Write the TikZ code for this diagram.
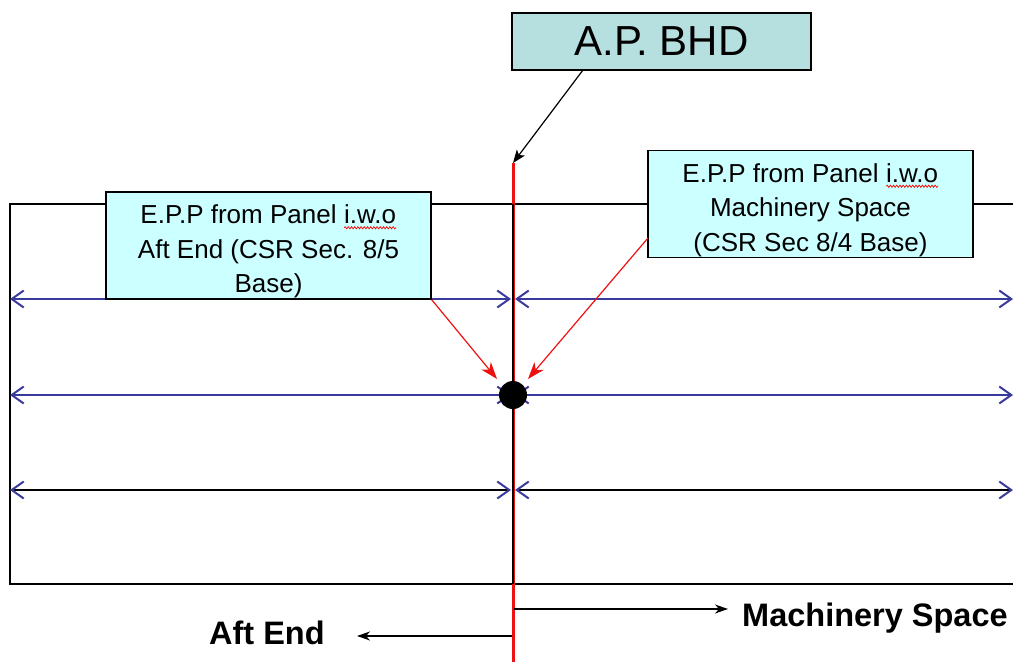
\documentclass[tikz,border=0pt]{standalone}
\usepackage{fontspec}
\setmainfont{Liberation Sans}
\usetikzlibrary{arrows.meta,decorations.pathmorphing}
\definecolor{apfill}{HTML}{B6DFE0}
\definecolor{eppfill}{HTML}{CCFFFF}
\definecolor{dimblue}{HTML}{3A3A9C}
\definecolor{bhdred}{HTML}{EE1111}
\newcommand\redwave[2]{\tikz[baseline=(#1.base),x=1pt,y=1pt]{%
  \node[inner sep=0pt,outer sep=0pt] (#1) {#2};%
  \draw[red, line width=0.7pt, decorate, decoration={snake, amplitude=1.1pt, segment length=3.2pt}]
    ([yshift=-4pt]#1.base west) -- ([yshift=-4pt]#1.base east);}}
\begin{document}
\begin{tikzpicture}[x=1pt,y=-1pt,
  outline/.style={draw=black, line width=1.3pt},
  eppbox/.style={draw=black, line width=1.3pt, fill=eppfill, inner sep=0pt,
    minimum width=325pt, minimum height=107pt},
  epptext/.style={inner sep=0pt, align=center, font=\fontsize{26}{34.5}\selectfont},
  apbox/.style={draw=black, line width=1.3pt, fill=apfill, inner sep=0pt,
    minimum width=299pt, minimum height=57pt, font=\fontsize{42}{48}\selectfont},
  tipb/.tip={Straight Barb[length=12pt,width=17pt,line width=2pt,color=dimblue]},
  dimline/.style={line width=1.3pt, {tipb}-{tipb}},
  redarrow/.style={bhdred, line width=1.2pt, -{Stealth[length=17pt,width=12pt,inset=5pt]}},
  blackarrow/.style={black, line width=1.2pt, -{Stealth[length=13pt,width=10pt,inset=3pt]}},
  dirarrow/.style={black, line width=1.2pt, -{Stealth[length=13pt,width=9pt,inset=4pt]}},
  dirlabel/.style={font=\bfseries\fontsize{32.5}{36}\selectfont, inner sep=0pt}]
\useasboundingbox (0,0) rectangle (1013,662);

% outer frame (open at the right)
\coordinate (TR) at (1013,204);
\coordinate (TL) at (10,204);
\coordinate (BL) at (10,584);
\coordinate (BR) at (1013,584);
\draw[outline] (TR) -- (TL) -- (BL) -- (BR);

% bulkhead line
\coordinate (btop) at (513,163);
\coordinate (bbot) at (513,662);
\coordinate (bin1) at (513,204);
\coordinate (bin2) at (513,584);
\draw[bhdred, line width=3pt] (btop) -- (bbot);
\draw[black, line width=1.1pt] (bin1) -- (bin2);

% dimension lines
\coordinate (r1l) at (10,299);  \coordinate (r1m) at (511,299);
\coordinate (r1n) at (515,299); \coordinate (r1r) at (1013,299);
\coordinate (r2l) at (10,395);  \coordinate (r2m) at (511,395);
\coordinate (r2n) at (515,395); \coordinate (r2r) at (1013,395);
\coordinate (r3l) at (10,490);  \coordinate (r3m) at (511,490);
\coordinate (r3n) at (515,490); \coordinate (r3r) at (1013,490);
\draw[dimline, dimblue] (r1m) -- (r1l);
\draw[dimline, dimblue] (r1n) -- (r1r);
\draw[dimline, dimblue] (r2m) -- (r2l);
\draw[dimline, dimblue] (r2n) -- (r2r);
\draw[dimline, black] (r3m) -- (r3l);
\draw[dimline, black] (r3n) -- (r3r);

% point
\node[circle, fill=black, minimum size=28pt, inner sep=0pt] (dot) at (513,395) {};

% boxes
\node[apbox] (ap) at (661.5,41.5) {A.P. BHD};
\node[eppbox] (left) at (268.5,245.5) {};
\node[epptext] (lefttxt) at ([yshift=-6pt]left.center) {E.P.P from Panel \redwave{wl}{i.w.o}\\Aft End (CSR Sec. 8/5\\Base)};
\node[eppbox] (right) at (810.5,204) {};
\node[epptext] (righttxt) at ([yshift=-6pt]right.center) {E.P.P from Panel \redwave{wr}{i.w.o}\\Machinery Space\\(CSR Sec 8/4 Base)};

% arrows
\coordinate (apfoot) at (583,70);
\draw[blackarrow] (apfoot) -- (btop);
\coordinate (lt) at (497,379);
\coordinate (rt) at (528,379);
\coordinate (rs) at (648,238);
\draw[redarrow] (left.south east) -- (lt);
\draw[redarrow] (rs) -- (rt);

% direction labels
\coordinate (ms0) at (514,609);
\coordinate (ms1) at (728,609);
\coordinate (ae0) at (512,636);
\coordinate (ae1) at (357,636);
\draw[dirarrow] (ms0) -- (ms1);
\draw[dirarrow] (ae0) -- (ae1);
\node[dirlabel, anchor=west] (ms) at (742,618) {Machinery Space};
\node[dirlabel, anchor=west] (ae) at (209,633) {Aft End};
\end{tikzpicture}
\end{document}
